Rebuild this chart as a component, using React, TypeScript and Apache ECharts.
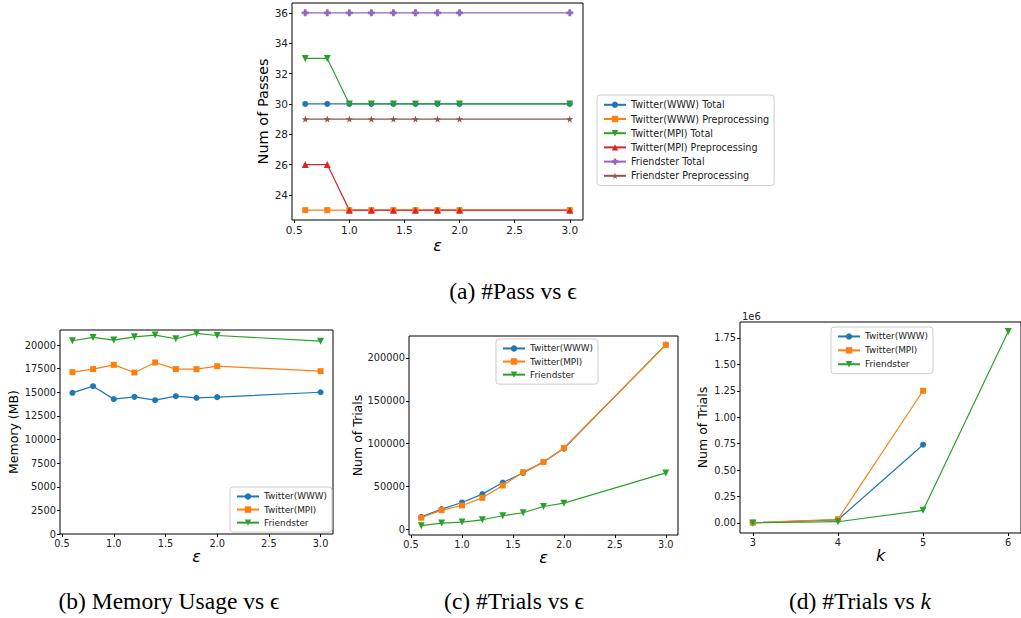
import React, { useEffect, useRef } from "react";
import * as echarts from "echarts";

// ---------- data ----------
const epsValues = [0.6, 0.8, 1.0, 1.2, 1.4, 1.6, 1.8, 2.0, 3.0];

// (a) number of passes
const passWWWTotal = [30, 30, 30, 30, 30, 30, 30, 30, 30];
const passWWWPre = [23, 23, 23, 23, 23, 23, 23, 23, 23];
const passMPITotal = [33, 33, 30, 30, 30, 30, 30, 30, 30];
const passMPIPre = [26, 26, 23, 23, 23, 23, 23, 23, 23];
const passFriendTotal = [36, 36, 36, 36, 36, 36, 36, 36, 36];
const passFriendPre = [29, 29, 29, 29, 29, 29, 29, 29, 29];

// (b) memory usage (MB)
const memWWW = [14950, 15650, 14280, 14520, 14170, 14590, 14420, 14490, 15010];
const memMPI = [17140, 17460, 17910, 17100, 18160, 17460, 17460, 17770, 17240];
const memFriend = [20460, 20810, 20530, 20880, 21060, 20670, 21240, 21020, 20420];

// (c) trials vs epsilon
const trialsWWW = [14700, 23600, 31400, 41100, 54600, 65900, 78700, 94200, 215500];
const trialsMPI = [13600, 22500, 27900, 36800, 51200, 66700, 78700, 95000, 215100];
const trialsFriend = [4300, 7400, 8500, 11200, 15900, 19400, 26700, 30600, 65900];

// (d) trials vs k
const kValues = [3, 4, 5, 6];
const kWWW = [3000, 30000, 740000];
const kMPI = [3000, 35000, 1250000];
const kFriend = [1000, 12000, 120000, 1810000];

// tick labels
const passXTicks = [0.5, 1.0, 1.5, 2.0, 2.5, 3.0];
const passYTicks = [24, 26, 28, 30, 32, 34, 36];
const memYTicks = [0, 2500, 5000, 7500, 10000, 12500, 15000, 17500, 20000];
const trialsYTicks = [0, 50000, 100000, 150000, 200000];
const kXTicks = [3, 4, 5, 6];
const kYTicks = [0, 250000, 500000, 750000, 1000000, 1250000, 1500000, 1750000];

const seriesNamesA = [
  "Twitter(WWW) Total",
  "Twitter(WWW) Preprocessing",
  "Twitter(MPI) Total",
  "Twitter(MPI) Preprocessing",
  "Friendster Total",
  "Friendster Preprocessing",
];
const seriesNamesB = ["Twitter(WWW)", "Twitter(MPI)", "Friendster"];

const captions = ["(a) #Pass vs ϵ", "(b) Memory Usage vs ϵ", "(c) #Trials vs ϵ", "(d) #Trials vs "];

// ---------- styles ----------
const C_BLUE = "#1f77b4";
const C_ORANGE = "#ff7f0e";
const C_GREEN = "#2ca02c";
const C_RED = "#d62728";
const C_PURPLE = "#9467bd";
const C_BROWN = "#8c564b";

const SYM_TRI_DOWN = "path://M0,0L10,0L5,9Z";
const SYM_TRI_UP = "path://M5,0L10,9L0,9Z";
const SYM_PLUS = "path://M3,0H7V3H10V7H7V10H3V7H0V3H3Z";
const SYM_STAR =
  "path://M5,0L6.18,3.38L9.76,3.45L6.9,5.62L7.94,9.05L5,7L2.06,9.05L3.1,5.62L0.24,3.45L3.82,3.38Z";

const FONT = "DejaVu Sans";
const SERIF = "Liberation Serif";
const CAP_SIZE = 23.5;

const pairs = (xs: number[], ys: number[]) => ys.map((y, i) => [xs[i], y]);

function grid(left: number, top: number, width: number, height: number) {
  return {
    left,
    top,
    width,
    height,
    show: true,
    borderColor: "#000",
    borderWidth: 1,
    backgroundColor: "transparent",
  };
}

function axis(
  gridIndex: number,
  min: number,
  max: number,
  ticks: number[],
  fmt: (v: number) => string,
  fontSize: number,
  extra: any = {}
) {
  return {
    type: "value",
    gridIndex,
    min,
    max,
    axisLine: { show: false, onZero: false },
    splitLine: { show: false },
    axisTick: {
      show: true,
      length: 3,
      customValues: ticks,
      lineStyle: { color: "#000", width: 1 },
    },
    axisLabel: {
      customValues: ticks,
      formatter: (v: number) => fmt(v),
      color: "#222",
      fontSize,
      fontFamily: FONT,
      margin: 4,
    },
    nameTextStyle: { color: "#000", fontFamily: FONT },
    ...extra,
  };
}

function line(
  name: string,
  gi: number,
  xs: number[],
  ys: number[],
  color: string,
  symbol: string,
  symbolSize: number
) {
  return {
    type: "line",
    name,
    xAxisIndex: gi,
    yAxisIndex: gi,
    data: pairs(xs, ys),
    symbol,
    symbolSize,
    showSymbol: true,
    color,
    itemStyle: { color },
    lineStyle: { color, width: 1.2 },
  };
}

function legend(names: string[], left: number, top: number, fontSize: number, rowGap: number) {
  return {
    data: names,
    orient: "vertical",
    left,
    top,
    itemWidth: 22,
    itemHeight: 8,
    itemGap: rowGap,
    selectedMode: false,
    textStyle: { fontSize, fontFamily: FONT, color: "#222", lineHeight: fontSize + 2 },
    borderColor: "#ccc",
    borderWidth: 1,
    borderRadius: 3,
    backgroundColor: "rgba(255,255,255,0.8)",
    padding: [4, 5, 4, 6],
  };
}

function caption(text: string, x: number, y: number) {
  return {
    type: "text",
    x,
    y,
    style: {
      text,
      font: `${CAP_SIZE}px "${SERIF}"`,
      fill: "#000",
      textAlign: "center",
      textVerticalAlign: "middle",
    },
  };
}

const f1 = (v: number) => v.toFixed(1);
const f0 = (v: number) => String(Math.round(v));
const fm = (v: number) => (v / 1e6).toFixed(2);

const epsName = (gap: number) => ({
  name: "ε",
  nameLocation: "middle",
  nameGap: gap,
  nameTextStyle: { fontSize: 16, fontStyle: "italic", fontFamily: FONT, color: "#000" },
});

export default function App() {
  const ref = useRef<HTMLDivElement>(null);

  useEffect(() => {
    if (!ref.current) return;
    const chart = echarts.init(ref.current, null, { renderer: "svg" });

    const option: any = {
      animation: false,
      backgroundColor: "#fff",
      grid: [
        grid(292, 3, 291, 217),
        grid(60, 330, 273, 204),
        grid(409, 336, 269, 199),
        grid(740, 322, 283, 211),
      ],
      xAxis: [
        axis(0, 0.48, 3.12, passXTicks, f1, 10.5, epsName(17)),
        axis(1, 0.48, 3.12, passXTicks, f1, 9.8, epsName(14)),
        axis(2, 0.48, 3.12, passXTicks, f1, 9.8, epsName(13)),
        axis(3, 2.85, 6.15, kXTicks, f0, 9.8, {
          name: "k",
          nameLocation: "middle",
          nameGap: 14,
          nameTextStyle: { fontSize: 16, fontStyle: "italic", fontFamily: FONT, color: "#000" },
        }),
      ],
      yAxis: [
        axis(0, 22.35, 36.65, passYTicks, f0, 10.5, {
          name: "Num of Passes",
          nameLocation: "middle",
          nameGap: 22,
          nameTextStyle: { fontSize: 14.5, fontFamily: FONT, color: "#000" },
        }),
        axis(1, 0, 21600, memYTicks, f0, 9.8, {
          name: "Memory (MB)",
          nameLocation: "middle",
          nameGap: 40,
          nameTextStyle: { fontSize: 12.5, fontFamily: FONT, color: "#000" },
        }),
        axis(2, -6550, 225550, trialsYTicks, f0, 9.8, {
          name: "Num of Trials",
          nameLocation: "middle",
          nameGap: 44,
          nameTextStyle: { fontSize: 12.5, fontFamily: FONT, color: "#000" },
        }),
        axis(3, -94600, 1900000, kYTicks, fm, 9.8, {
          name: "Num of Trials",
          nameLocation: "middle",
          nameGap: 31,
          nameTextStyle: { fontSize: 12.5, fontFamily: FONT, color: "#000" },
        }),
      ],
      legend: [
        legend(seriesNamesA, 597, 95, 9.6, 2.6),
        legend(seriesNamesB, 230, 487, 8.9, 2.2),
        legend(seriesNamesB, 496, 339, 8.9, 2.2),
        legend(seriesNamesB, 831, 327, 8.9, 3.0),
      ],
      series: [
        line(seriesNamesA[0], 0, epsValues, passWWWTotal, C_BLUE, "circle", 6),
        line(seriesNamesA[1], 0, epsValues, passWWWPre, C_ORANGE, "rect", 6),
        line(seriesNamesA[2], 0, epsValues, passMPITotal, C_GREEN, SYM_TRI_DOWN, 7),
        line(seriesNamesA[3], 0, epsValues, passMPIPre, C_RED, SYM_TRI_UP, 7),
        line(seriesNamesA[4], 0, epsValues, passFriendTotal, C_PURPLE, SYM_PLUS, 7),
        line(seriesNamesA[5], 0, epsValues, passFriendPre, C_BROWN, SYM_STAR, 7),

        line(seriesNamesB[0], 1, epsValues, memWWW, C_BLUE, "circle", 6),
        line(seriesNamesB[1], 1, epsValues, memMPI, C_ORANGE, "rect", 6),
        line(seriesNamesB[2], 1, epsValues, memFriend, C_GREEN, SYM_TRI_DOWN, 7),

        line(seriesNamesB[0], 2, epsValues, trialsWWW, C_BLUE, "circle", 6),
        line(seriesNamesB[1], 2, epsValues, trialsMPI, C_ORANGE, "rect", 6),
        line(seriesNamesB[2], 2, epsValues, trialsFriend, C_GREEN, SYM_TRI_DOWN, 7),

        line(seriesNamesB[0], 3, kValues, kWWW, C_BLUE, "circle", 6),
        line(seriesNamesB[1], 3, kValues, kMPI, C_ORANGE, "rect", 6),
        line(seriesNamesB[2], 3, kValues, kFriend, C_GREEN, SYM_TRI_DOWN, 7),
      ],
      graphic: [
        {
          type: "text",
          left: 742,
          top: 311,
          style: { text: "1e6", font: `10px "${FONT}"`, fill: "#222" },
        },
        caption(captions[0], 513, 291),
        caption(captions[1], 169, 601),
        caption(captions[2], 514, 601),
        {
          type: "text",
          x: 860,
          y: 601,
          style: {
            text: `{a|${captions[3]}}{b|k}`,
            fill: "#000",
            textAlign: "center",
            textVerticalAlign: "middle",
            rich: {
              a: { font: `${CAP_SIZE}px "${SERIF}"`, fill: "#000" },
              b: { font: `italic ${CAP_SIZE}px "${SERIF}"`, fill: "#000" },
            },
          },
        },
      ],
    };

    chart.setOption(option);
    return () => chart.dispose();
  }, []);

  return (
    <div
      ref={ref}
      style={{ position: "fixed", left: 0, top: 0, width: 1021, height: 618, background: "#fff" }}
    />
  );
}
